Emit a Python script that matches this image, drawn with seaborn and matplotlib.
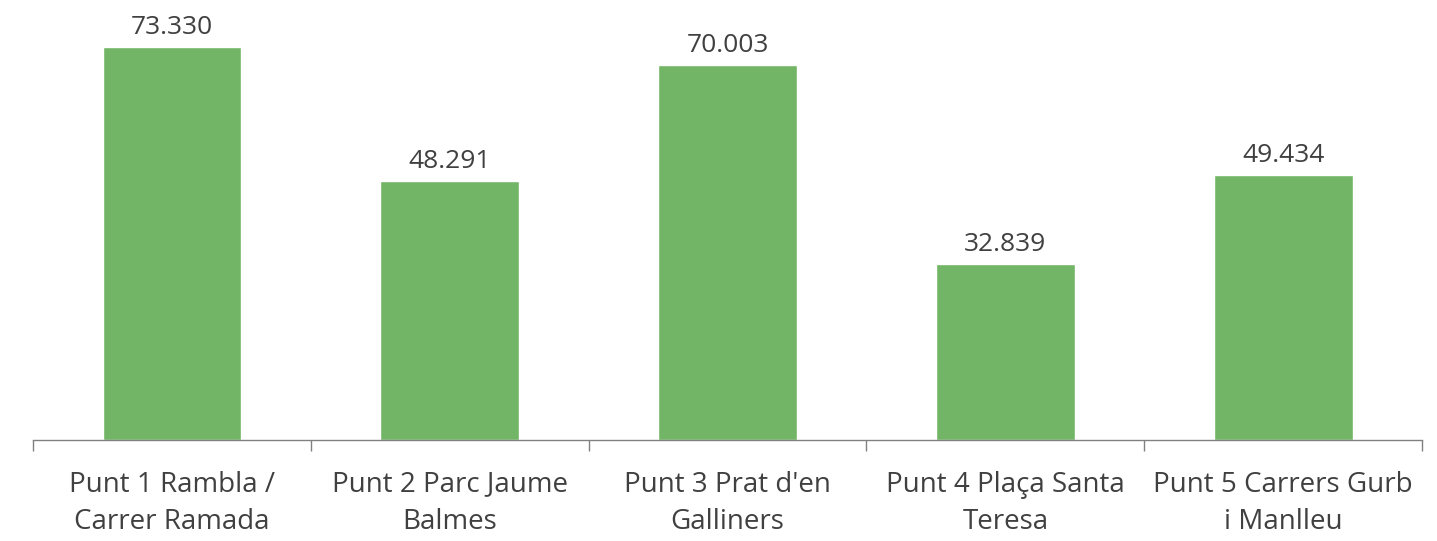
import matplotlib
matplotlib.use("Agg")
import matplotlib.pyplot as plt
import seaborn as sns
import pandas as pd

# dades
punts = ["Punt 1 Rambla /\nCarrer Ramada", "Punt 2 Parc Jaume\nBalmes",
         "Punt 3 Prat d'en\nGalliners", "Punt 4 Plaça Santa\nTeresa",
         "Punt 5 Carrers Gurb\ni Manlleu"]
valors = [73330, 48291, 70003, 32839, 49434]
etiquetes = ["73.330", "48.291", "70.003", "32.839", "49.434"]

df = pd.DataFrame({"punt": punts, "valor": valors})

sns.set_style("white")
plt.rcParams["font.family"] = ["Open Sans", "DejaVu Sans"]

fig = plt.figure(figsize=(14.37, 5.41), dpi=100)
ax = fig.add_axes([0.023, 0.1867, 0.9666, 0.8133])

sns.barplot(data=df, x="punt", y="valor", color="#73b566", width=0.5,
            saturation=1, ax=ax)

ax.set_ylim(0, 82100)
ax.set_xlim(-0.5, 4.5)
ax.set_xlabel("")
ax.set_ylabel("")
ax.set_yticks([])

for i, (v, lab) in enumerate(zip(valors, etiquetes)):
    ax.text(i, v + 1300, lab, ha="center", va="bottom", fontsize=19, color="#404040")

# marques entre categories
ax.set_xticks([i - 0.5 for i in range(6)], minor=True)
ax.tick_params(axis="x", which="minor", bottom=True, length=8, width=1,
               color="#808080", direction="out")
ax.tick_params(axis="x", which="major", bottom=False, length=0, pad=22,
               labelsize=20, labelcolor="#404040")
for t in ax.get_xticklabels():
    t.set_linespacing(1.45)

for s in ["top", "right", "left"]:
    ax.spines[s].set_visible(False)
ax.spines["bottom"].set_color("#808080")
ax.spines["bottom"].set_linewidth(1)

fig.savefig("out.png", dpi=100)
